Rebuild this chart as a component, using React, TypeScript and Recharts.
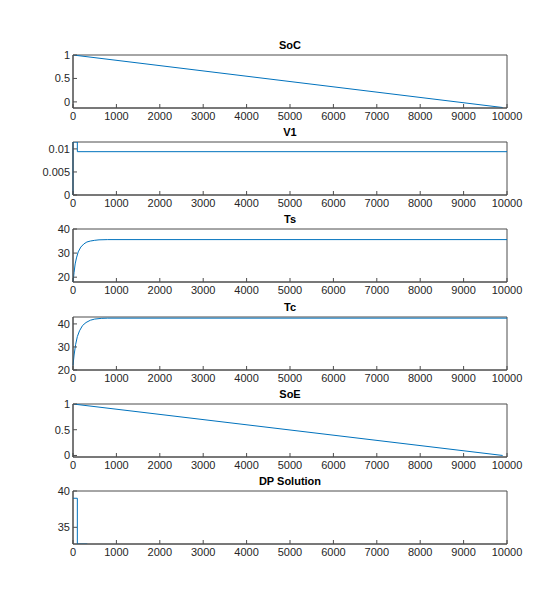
import { LineChart, Line, XAxis, YAxis, ReferenceArea } from "recharts";

const xTicks = [0, 1000, 2000, 3000, 4000, 5000, 6000, 7000, 8000, 9000, 10000];

const socT = [0, 9900];
const socV = [1, -0.12];
const v1T = [0, 0, 100, 100, 10000];
const v1V = [0, 0.0115, 0.0115, 0.0094, 0.0094];
const tsT = [0, 25, 50, 80, 120, 180, 250, 320, 400, 500, 600, 800, 10000];
const tsV = [18, 22, 25.5, 28, 30.5, 32.5, 33.8, 34.6, 35.0, 35.3, 35.5, 35.6, 35.6];
const tcT = [0, 25, 60, 100, 150, 220, 300, 400, 500, 650, 800, 10000];
const tcV = [22, 26.5, 31, 34.5, 37, 39.3, 40.6, 41.6, 42.1, 42.4, 42.5, 42.5];
const soeT = [0, 9900];
const soeV = [1, 0];
const dpT = [0, 100, 100, 330];
const dpV = [39, 39, 32.7, 32.7];

const zip = (t: number[], v: number[]) => t.map((x, i) => ({ t: x, v: v[i] }));

const plots = [
  { title: "SoC", data: zip(socT, socV), domain: [-0.13, 1], ticks: [0, 0.5, 1] },
  { title: "V1", data: zip(v1T, v1V), domain: [0, 0.0115], ticks: [0, 0.005, 0.01] },
  { title: "Ts", data: zip(tsT, tsV), domain: [18, 40], ticks: [20, 30, 40] },
  { title: "Tc", data: zip(tcT, tcV), domain: [20, 43], ticks: [20, 30, 40] },
  { title: "SoE", data: zip(soeT, soeV), domain: [-0.03, 1], ticks: [0, 0.5, 1] },
  { title: "DP Solution", data: zip(dpT, dpV), domain: [32.7, 40], ticks: [35, 40] },
];

const AX = "#4d4d4d";
const FONT = "'Liberation Sans', Arial, sans-serif";

const BottomTick = (p: any) => (
  <g>
    <line x1={p.x} y1={p.y} x2={p.x} y2={p.y - 4} stroke={AX} />
    <text x={p.x} y={p.y + 12} textAnchor="middle" fontSize={11} fill="#262626" fontFamily={FONT}>
      {p.payload.value}
    </text>
  </g>
);
const LeftTick = (p: any) => (
  <g>
    <line x1={p.x} y1={p.y} x2={p.x + 4} y2={p.y} stroke={AX} />
    <text x={p.x - 3} y={p.y + 4} textAnchor="end" fontSize={11} fill="#262626" fontFamily={FONT}>
      {p.payload.value}
    </text>
  </g>
);

export default function App() {
  return (
    <div style={{ position: "absolute", left: 0, top: 0, width: 560, height: 613, background: "#fff" }}>
      {plots.map((p, i) => {
        const top = 55 + i * 87.2;
        return (
          <div key={p.title} style={{ position: "absolute", left: 0, top: top - 20 }}>
            <div
              style={{
                position: "absolute",
                left: 73,
                width: 434,
                top: 4,
                textAlign: "center",
                fontFamily: FONT,
                fontWeight: 700,
                fontSize: 11,
                color: "#000",
              }}
            >
              {p.title}
            </div>
            <LineChart width={560} height={93} data={p.data} margin={{ top: 20, right: 53, bottom: 0, left: 33 }}>
              <XAxis dataKey="t" type="number" domain={[0, 10000]} ticks={xTicks} tickSize={0} tickMargin={0} height={20} stroke={AX} tick={<BottomTick />} interval={0} />
              <YAxis type="number" domain={p.domain} ticks={p.ticks} width={40} tickSize={0} tickMargin={0} stroke={AX} tick={<LeftTick />} interval={0} allowDataOverflow />
              <ReferenceArea x1={0} x2={10000} y1={p.domain[0]} y2={p.domain[1]} fill="none" stroke={AX} strokeWidth={1} ifOverflow="visible" />
              <Line dataKey="v" type="linear" stroke="#0072BD" strokeWidth={1} dot={false} isAnimationActive={false} />
            </LineChart>
          </div>
        );
      })}
    </div>
  );
}
